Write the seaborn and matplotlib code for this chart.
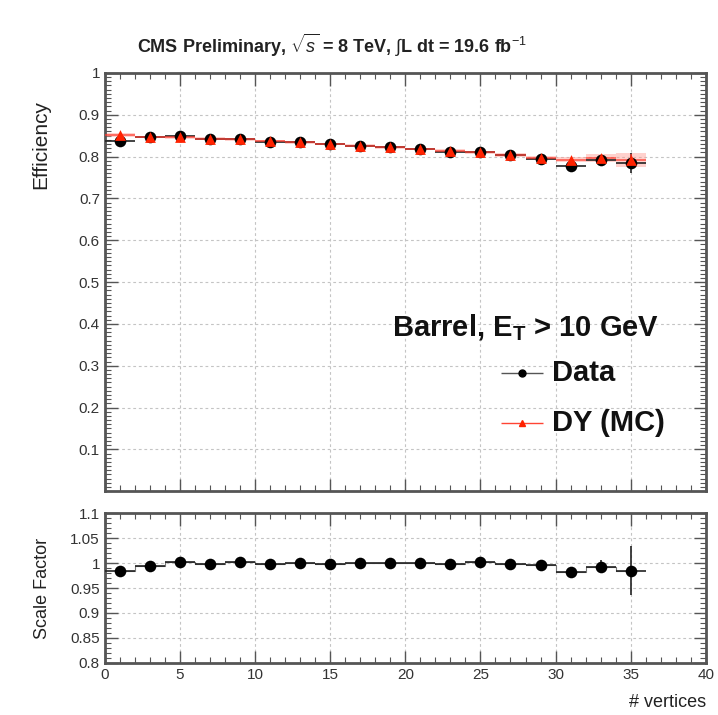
import numpy as np
import pandas as pd
import matplotlib
matplotlib.use("Agg")
import matplotlib.pyplot as plt
from matplotlib.ticker import MultipleLocator
import seaborn as sns

# ---- data ----
nvtx = [1, 3, 5, 7, 9, 11, 13, 15, 17, 19, 21, 23, 25, 27, 29, 31, 33, 35]
eff_data = [0.838, 0.846, 0.850, 0.842, 0.841, 0.836, 0.834, 0.829, 0.826, 0.822,
            0.818, 0.812, 0.812, 0.803, 0.795, 0.778, 0.793, 0.784]
eff_data_err = [0.003, 0.002, 0.002, 0.002, 0.002, 0.002, 0.002, 0.002, 0.002, 0.002,
                0.002, 0.002, 0.003, 0.003, 0.004, 0.006, 0.010, 0.024]
eff_mc = [0.852, 0.847, 0.846, 0.843, 0.841, 0.837, 0.834, 0.830, 0.826, 0.822,
          0.818, 0.814, 0.810, 0.804, 0.797, 0.792, 0.797, 0.792]
eff_mc_err = [0.002, 0.001, 0.001, 0.001, 0.001, 0.001, 0.001, 0.001, 0.001, 0.001,
              0.001, 0.001, 0.002, 0.002, 0.003, 0.004, 0.007, 0.015]
sf = [0.985, 0.994, 1.003, 0.999, 1.002, 0.998, 1.000, 0.999, 1.000, 1.000,
      1.000, 0.998, 1.003, 0.998, 0.996, 0.983, 0.993, 0.985]
sf_err = [0.007, 0.004, 0.004, 0.003, 0.003, 0.003, 0.003, 0.003, 0.003, 0.003,
          0.003, 0.003, 0.004, 0.004, 0.005, 0.008, 0.013, 0.049]
bin_half = 1.0

title = r"CMS Preliminary, $\sqrt{s}$ = 8 TeV, $\int$L dt = 19.6 fb$^{-1}$"

df = pd.DataFrame({"nvtx": nvtx, "eff_data": eff_data, "eff_mc": eff_mc, "sf": sf})

sns.set_theme(style="ticks")
plt.rcParams['font.family'] = ['Liberation Sans', 'DejaVu Sans']
plt.rcParams['mathtext.fontset'] = 'custom'
plt.rcParams['mathtext.rm'] = 'Liberation Sans'
plt.rcParams['mathtext.it'] = 'Liberation Sans:italic'
plt.rcParams['mathtext.bf'] = 'Liberation Sans:bold'

fig = plt.figure(figsize=(7.18, 7.15), dpi=100)
ax1 = fig.add_axes([0.146, 0.313, 0.837, 0.585])
ax2 = fig.add_axes([0.146, 0.073, 0.837, 0.209])

frame_col = "#555555"
grid_kw = dict(color="#c4c4c4", linestyle=(0, (2.5, 2.5)), linewidth=0.8)


def style_axes(ax, ymaj, ymin):
    ax.set_xlim(0, 40)
    ax.xaxis.set_major_locator(MultipleLocator(5))
    ax.xaxis.set_minor_locator(MultipleLocator(1))
    ax.yaxis.set_major_locator(MultipleLocator(ymaj))
    ax.yaxis.set_minor_locator(MultipleLocator(ymin))
    ax.tick_params(which="both", direction="in", top=True, right=True,
                   color=frame_col, labelsize=11, labelcolor="#333333")
    ax.tick_params(which="major", length=9, width=1.0)
    ax.tick_params(which="minor", length=4.5, width=0.8)
    ax.grid(True, which="major", **grid_kw)
    for s in ax.spines.values():
        s.set_color(frame_col)
        s.set_linewidth(2.0)
    ax.set_axisbelow(True)


# ---- top panel ----
style_axes(ax1, 0.1, 0.01)
ax1.set_ylim(0, 1)
ax1.set_xticklabels([])
ax1.set_yticks([0.1, 0.2, 0.3, 0.4, 0.5, 0.6, 0.7, 0.8, 0.9, 1.0])
ax1.set_yticklabels(["0.1", "0.2", "0.3", "0.4", "0.5", "0.6", "0.7", "0.8", "0.9", "1"])

ax1.errorbar(df["nvtx"], df["eff_data"], xerr=bin_half, yerr=eff_data_err, fmt="none",
             ecolor="#222222", elinewidth=1.2, zorder=3)
ax1.errorbar(df["nvtx"], df["eff_mc"], xerr=bin_half, yerr=eff_mc_err, fmt="none",
             ecolor="#ff3b2f", elinewidth=1.2, alpha=0.8, zorder=4)
ax1.bar(df["nvtx"], 2 * np.array(eff_mc_err) + 0.004, width=2 * bin_half,
        bottom=np.array(eff_mc) - np.array(eff_mc_err) - 0.002,
        color="#ff9a90", alpha=0.45, linewidth=0, zorder=2)
sns.scatterplot(data=df, x="nvtx", y="eff_data", ax=ax1, color="black", s=70,
                marker="o", edgecolor="black", linewidth=0, zorder=5, legend=False)
sns.scatterplot(data=df, x="nvtx", y="eff_mc", ax=ax1, color="#ff2200", s=60,
                marker="^", edgecolor="#ff2200", linewidth=0, zorder=6, legend=False)
ax1.set_xlabel("")
ax1.set_ylabel("Efficiency", fontsize=15, color="#222222")
ax1.yaxis.set_label_coords(-0.09, 0.83)

fig.text(0.462, 0.937, title, ha="center", va="center", fontsize=13,
         fontweight="bold", color="#222222")

# legend-like annotations
ax1.text(0.923, 0.392, r"Barrel, E$_{\mathregular{T}}$ > 10 GeV", transform=ax1.transAxes,
         ha="right", va="center", fontsize=21, fontweight="bold", color="#111111")
ax1.errorbar([0.694], [0.282], xerr=[0.035], transform=ax1.transAxes, fmt="o",
             color="black", ms=5, elinewidth=1.0, ecolor="#555555")
ax1.text(0.744, 0.282, "Data", transform=ax1.transAxes, ha="left", va="center",
         fontsize=21, fontweight="bold", color="#111111")
ax1.errorbar([0.694], [0.163], xerr=[0.035], transform=ax1.transAxes, fmt="^",
             color="#ff2200", ms=5, elinewidth=1.0, ecolor="#ff4433")
ax1.text(0.744, 0.163, "DY (MC)", transform=ax1.transAxes, ha="left", va="center",
         fontsize=21, fontweight="bold", color="#111111")

# ---- bottom panel ----
style_axes(ax2, 0.05, 0.01)
ax2.set_ylim(0.8, 1.1)
ax2.set_yticks([0.8, 0.85, 0.9, 0.95, 1.0, 1.05, 1.1])
ax2.set_yticklabels(["0.8", "0.85", "0.9", "0.95", "1", "1.05", "1.1"])
ax2.set_xticks([0, 5, 10, 15, 20, 25, 30, 35, 40])
ax2.set_xticklabels(["0", "5", "10", "15", "20", "25", "30", "35", "40"])
ax2.errorbar(df["nvtx"], df["sf"], xerr=bin_half, yerr=sf_err, fmt="none",
             ecolor="#222222", elinewidth=1.2, zorder=3)
sns.lineplot(data=df, x="nvtx", y="sf", ax=ax2, drawstyle="steps-mid",
             color="#777777", linewidth=0.8, zorder=2)
sns.scatterplot(data=df, x="nvtx", y="sf", ax=ax2, color="black", s=70,
                marker="o", linewidth=0, zorder=5, legend=False)
ax2.set_xlabel("# vertices", fontsize=13, color="#222222")
ax2.xaxis.set_label_coords(1.0, -0.265)
ax2.xaxis.label.set_horizontalalignment("right")
ax2.xaxis.label.set_verticalalignment("center")
ax2.set_ylabel("Scale Factor", fontsize=13, color="#222222")
ax2.yaxis.set_label_coords(-0.09, 0.5)

fig.savefig("out.png", dpi=100, facecolor="white")
